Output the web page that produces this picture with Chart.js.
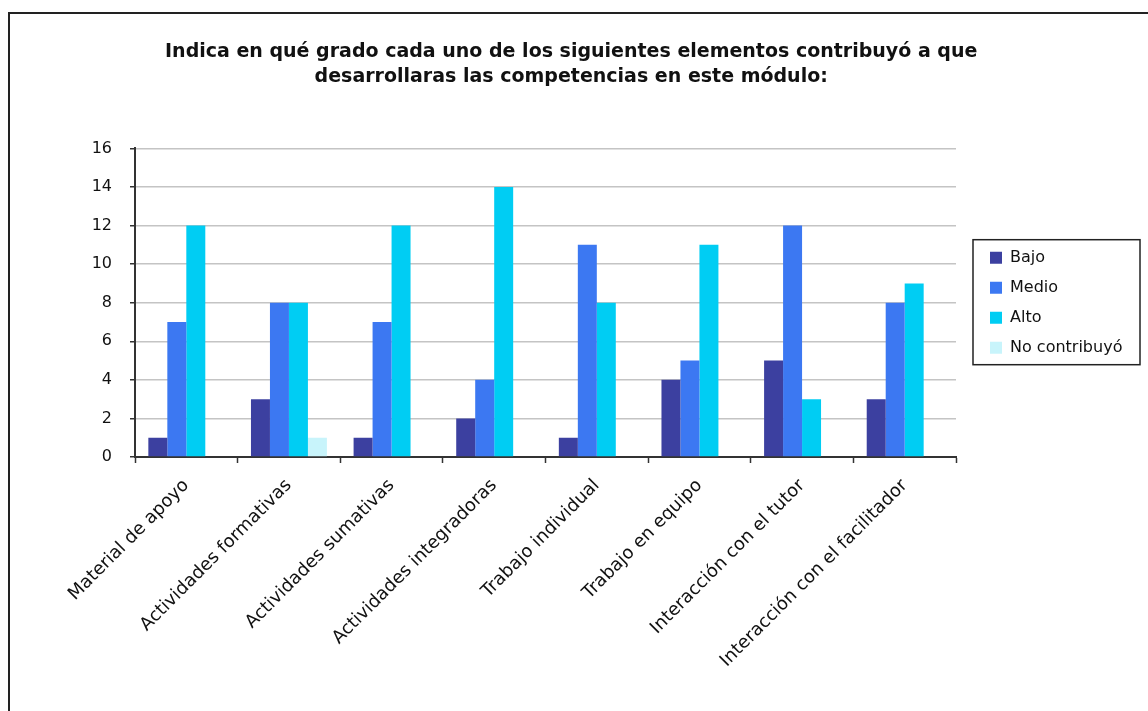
<!DOCTYPE html>
<html>
<head>
<meta charset="utf-8">
<script src="https://cdn.jsdelivr.net/npm/chart.js@4"></script>
<style>
  body { margin: 0; background: #fff; }
  #marco {
    position: absolute; left: 8px; top: 12px;
    width: 1138px; height: 697px;
    border-top: 2px solid #222; border-left: 2px solid #222;
  }
</style>
</head>
<body>
<div id="marco"><canvas id="grafica"></canvas></div>
<script>
/* Datos */
const categorias = [
    'Material de apoyo',
    'Actividades formativas',
    'Actividades sumativas',
    'Actividades integradoras',
    'Trabajo individual',
    'Trabajo en equipo',
    'Interacción con el tutor',
    'Interacción con el facilitador'
];
const bajo = [1, 3, 1, 2, 1, 4, 5, 3];
const medio = [7, 8, 7, 4, 11, 5, 12, 8];
const alto = [12, 8, 12, 14, 8, 11, 3, 9];
const noContribuyo = [0, 1, 0, 0, 0, 0, 0, 0];
const ticksY = [0, 2, 4, 6, 8, 10, 12, 14, 16];

const titulo = [
    'Indica en qué grado cada uno de los siguientes elementos contribuyó a que',
    'desarrollaras las competencias en este módulo:'
];

const fuente = 'DejaVu Sans';
const tamLeyenda = 16;

/* Medir ancho de la leyenda para dejarla junto al borde */
const medir = document.createElement('canvas').getContext('2d');
medir.font = tamLeyenda + 'px "' + fuente + '"';
const anchoTexto = medir.measureText('No contribuyó').width;
const anchoLeyenda = 15 + 12 + tamLeyenda / 2 + anchoTexto + 10;
const padDerecho = Math.max(0, 1138 - (965 + anchoLeyenda));

/* Borde alrededor de la leyenda */
const bordeLeyenda = {
    id: 'bordeLeyenda',
    afterDraw(chart) {
        const ley = chart.legend;
        const cajas = ley.legendHitBoxes;
        if (!cajas || !cajas.length) return;
        const ctx = chart.ctx;
        const izq = cajas[0].left - 17;
        const arriba = cajas[0].top - 10;
        const abajo = cajas[cajas.length - 1].top + cajas[cajas.length - 1].height + 9;
        ctx.save();
        ctx.strokeStyle = '#222';
        ctx.lineWidth = 1.5;
        ctx.strokeRect(izq, arriba, 1130 - izq, abajo - arriba);
        ctx.restore();
    }
};

const datos = {
    labels: categorias,
    datasets: [
        { label: 'Bajo', data: bajo, backgroundColor: '#3c40a0' },
        { label: 'Medio', data: medio, backgroundColor: '#3c78f2' },
        { label: 'Alto', data: alto, backgroundColor: '#00cdf3' },
        { label: 'No contribuyó', data: noContribuyo, backgroundColor: '#c8f4fb' }
    ]
};

const config = {
    type: 'bar',
    data: datos,
    options: {
        responsive: true,
        maintainAspectRatio: false,
        animation: false,
        layout: { padding: { left: 0, right: padDerecho, top: 0, bottom: 0 } },
        datasets: { bar: { categoryPercentage: 0.74, barPercentage: 1.0 } },
        plugins: {
            title: {
                display: true,
                text: titulo,
                color: '#111',
                font: { family: fuente, size: 19, weight: 'bold', lineHeight: 1.3 },
                padding: { top: 26, bottom: 59 }
            },
            legend: {
                position: 'right',
                fullSize: false,
                labels: {
                    boxWidth: 12,
                    boxHeight: 12,
                    padding: 14,
                    color: '#111',
                    font: { family: fuente, size: tamLeyenda }
                }
            },
            tooltip: { enabled: false }
        },
        scales: {
            x: {
                grid: {
                    offset: true,
                    drawOnChartArea: false,
                    drawTicks: true,
                    tickLength: 6,
                    tickColor: '#333',
                    tickWidth: 1.5
                },
                border: { color: '#333', width: 2 },
                ticks: {
                    autoSkip: false,
                    minRotation: 45,
                    maxRotation: 45,
                    padding: 12,
                    color: '#111',
                    font: { family: fuente, size: 18 }
                },
                afterFit: (s) => { s.height = 254; }
            },
            y: {
                min: 0,
                max: 16,
                afterBuildTicks: (s) => { s.ticks = ticksY.map(v => ({ value: v })); },
                grid: {
                    color: '#c4c4c4',
                    lineWidth: 1.5,
                    tickLength: 5,
                    tickColor: '#333'
                },
                border: { color: '#333', width: 2 },
                ticks: {
                    padding: 18,
                    color: '#111',
                    font: { family: fuente, size: 16 }
                },
                afterFit: (s) => { s.width = 125; }
            },
            hueco: {
                position: 'right',
                display: true,
                grid: { display: false },
                border: { display: false },
                ticks: { display: false },
                afterFit: (s) => { s.width = 20; }
            }
        }
    },
    plugins: [bordeLeyenda]
};

const miGrafica = new Chart(document.getElementById('grafica'), config);
</script>
</body>
</html>
